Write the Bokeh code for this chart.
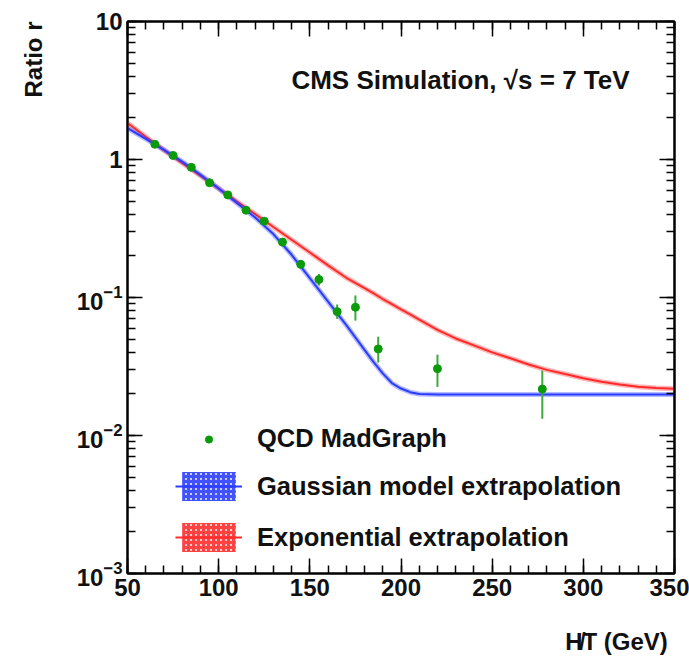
from bokeh.plotting import figure
from bokeh.models import (LogAxis, LinearAxis, Range1d, Label, Legend, LegendItem,
                          LogTicker, FixedTicker, Title)
from bokeh.embed import file_html
from bokeh.resources import INLINE

# ---------------- data ----------------
ht_points = [65, 75, 85, 95, 105, 115, 125, 135, 145, 155, 165, 175, 187.5, 220, 277.5]
ratio_points = [1.29, 1.07, 0.877, 0.678, 0.554, 0.429, 0.357, 0.252, 0.174, 0.135,
                0.079, 0.085, 0.0424, 0.0305, 0.0217]
ratio_lo = [1.25, 1.04, 0.85, 0.655, 0.535, 0.413, 0.343, 0.240, 0.162, 0.122,
            0.070, 0.068, 0.0338, 0.0225, 0.0132]
ratio_hi = [1.33, 1.10, 0.905, 0.70, 0.573, 0.445, 0.371, 0.264, 0.186, 0.148,
            0.089, 0.1035, 0.052, 0.0385, 0.0295]

ht_curve = [50, 60, 70, 80, 90, 100, 110, 120, 130, 140, 150, 160, 170, 180, 185,
            190, 195, 200, 205, 210, 220, 230, 240, 250, 260, 270, 280, 290, 300,
            310, 320, 330, 340, 350]
gauss_curve = [1.69, 1.41, 1.175, 0.966, 0.776, 0.617, 0.484, 0.380, 0.288, 0.204,
               0.138, 0.0933, 0.063, 0.0417, 0.034, 0.0282, 0.024, 0.0219, 0.0206,
               0.0200, 0.0198, 0.0198, 0.0198, 0.0198, 0.0198, 0.0198, 0.0198,
               0.0198, 0.0198, 0.0198, 0.0198, 0.0198, 0.0198, 0.0198]
expo_curve = [1.84, 1.46, 1.17, 0.944, 0.762, 0.617, 0.495, 0.403, 0.324, 0.262,
              0.212, 0.171, 0.139, 0.117, 0.107, 0.0975, 0.0895, 0.082, 0.0755,
              0.0692, 0.0582, 0.0505, 0.0450, 0.0400, 0.0363, 0.0327, 0.0299, 0.0279,
              0.026, 0.0245, 0.0234, 0.0226, 0.0221, 0.0218]

x_ticks = [50, 100, 150, 200, 250, 300, 350]
x_minor = list(range(50, 351, 10))
y_overrides = {1: "1", 10: "10"}

GREEN = "#0a9a0a"
BLUE = "#2a3cff"
RED = "#ff2a2a"
FONT = "Liberation Sans"

p = figure(width=689, height=658, output_backend="svg", toolbar_location=None,
           y_axis_type="log", x_range=Range1d(50, 350), y_range=Range1d(1e-3, 10),
           min_border_left=127, min_border_right=15, min_border_top=21,
           min_border_bottom=85)
p.grid.visible = False
p.outline_line_color = "black"
p.outline_line_width = 2
p.background_fill_color = "white"
p.border_fill_color = "white"


def style(ax, labels=True):
    ax.axis_line_color = "black"
    ax.axis_line_width = 2
    ax.major_tick_in = 15
    ax.major_tick_out = 0
    ax.minor_tick_in = 8
    ax.minor_tick_out = 0
    ax.major_tick_line_width = 1.5
    ax.minor_tick_line_width = 1.5
    ax.major_label_text_font = FONT
    ax.major_label_text_font_style = "bold"
    ax.major_label_text_font_size = "24px"
    ax.major_label_text_color = "#111111"
    ax.major_label_standoff = 5
    if not labels:
        ax.major_label_text_font_size = "1px"
        ax.major_label_text_alpha = 0
        ax.major_label_standoff = 0


p.xaxis.ticker = FixedTicker(ticks=x_ticks, minor_ticks=x_minor)
style(p.xaxis[0])
style(p.yaxis[0])
p.yaxis[0].ticker = LogTicker(num_minor_ticks=10)
p.yaxis[0].major_label_overrides = y_overrides

top = LinearAxis(ticker=FixedTicker(ticks=x_ticks, minor_ticks=x_minor))
style(top, labels=False)
p.add_layout(top, "above")
right = LogAxis(ticker=LogTicker(num_minor_ticks=10))
style(right, labels=False)
p.add_layout(right, "right")

# axis titles as side-panel titles (an empty line gives the gap to the tick labels)
p.add_layout(Title(text="Ratio r\n", align="right", text_font=FONT, text_font_style="bold",
                   text_font_size="24px", text_color="#111111", standoff=0), "left")
p.add_layout(Title(text="\nH̸T  (GeV)", align="right", text_font=FONT, text_font_style="bold",
                   text_font_size="24px", text_color="#111111", standoff=0), "below")

# curves
p.line(ht_curve, expo_curve, line_color=RED, line_width=5, line_alpha=0.35)
red_line = p.line(ht_curve, expo_curve, line_color=RED, line_width=2)
p.line(ht_curve, gauss_curve, line_color=BLUE, line_width=5, line_alpha=0.35)
blue_line = p.line(ht_curve, gauss_curve, line_color=BLUE, line_width=2)

# legend-only band renderers (zero area)
blue_band = p.varea(x=ht_curve, y1=gauss_curve, y2=gauss_curve, fill_color=BLUE, fill_alpha=0.25,
                    hatch_pattern="+", hatch_color=BLUE, hatch_scale=5, hatch_weight=3,
                    hatch_alpha=0.85)
red_band = p.varea(x=ht_curve, y1=expo_curve, y2=expo_curve, fill_color=RED, fill_alpha=0.25,
                   hatch_pattern="+", hatch_color=RED, hatch_scale=5, hatch_weight=3,
                   hatch_alpha=0.85)

# points
p.segment(x0=ht_points, y0=ratio_lo, x1=ht_points, y1=ratio_hi,
          line_color="#3aaa3a", line_width=2)
pts = p.scatter(ht_points, ratio_points, size=8, color=GREEN)

leg_a = Legend(items=[LegendItem(label="QCD MadGraph", renderers=[pts])],
               location=(48, 120), glyph_width=67, glyph_height=18,
               label_standoff=15, padding=0, margin=0, spacing=0,
               border_line_color=None, background_fill_alpha=0,
               label_text_font=FONT, label_text_font_style="bold",
               label_text_font_size="25.5px", label_text_color="#111111")
leg_b = Legend(items=[LegendItem(label="Gaussian model extrapolation", renderers=[blue_band, blue_line]),
                      LegendItem(label="Exponential extrapolation", renderers=[red_band, red_line])],
               location=(48, 18), glyph_width=67, glyph_height=36,
               label_standoff=15, padding=0, margin=0, spacing=15,
               border_line_color=None, background_fill_alpha=0,
               label_text_font=FONT, label_text_font_style="bold",
               label_text_font_size="25.5px", label_text_color="#111111")
p.add_layout(leg_a)
p.add_layout(leg_b)

p.add_layout(Label(text="CMS Simulation, √s = 7 TeV", x=333, y=494, x_units="screen",
                   y_units="screen", text_font=FONT, text_font_style="bold",
                   text_font_size="26px", text_align="center", text_baseline="middle",
                   text_color="#111111"))

open("out.html", "w").write(file_html(p, INLINE))
